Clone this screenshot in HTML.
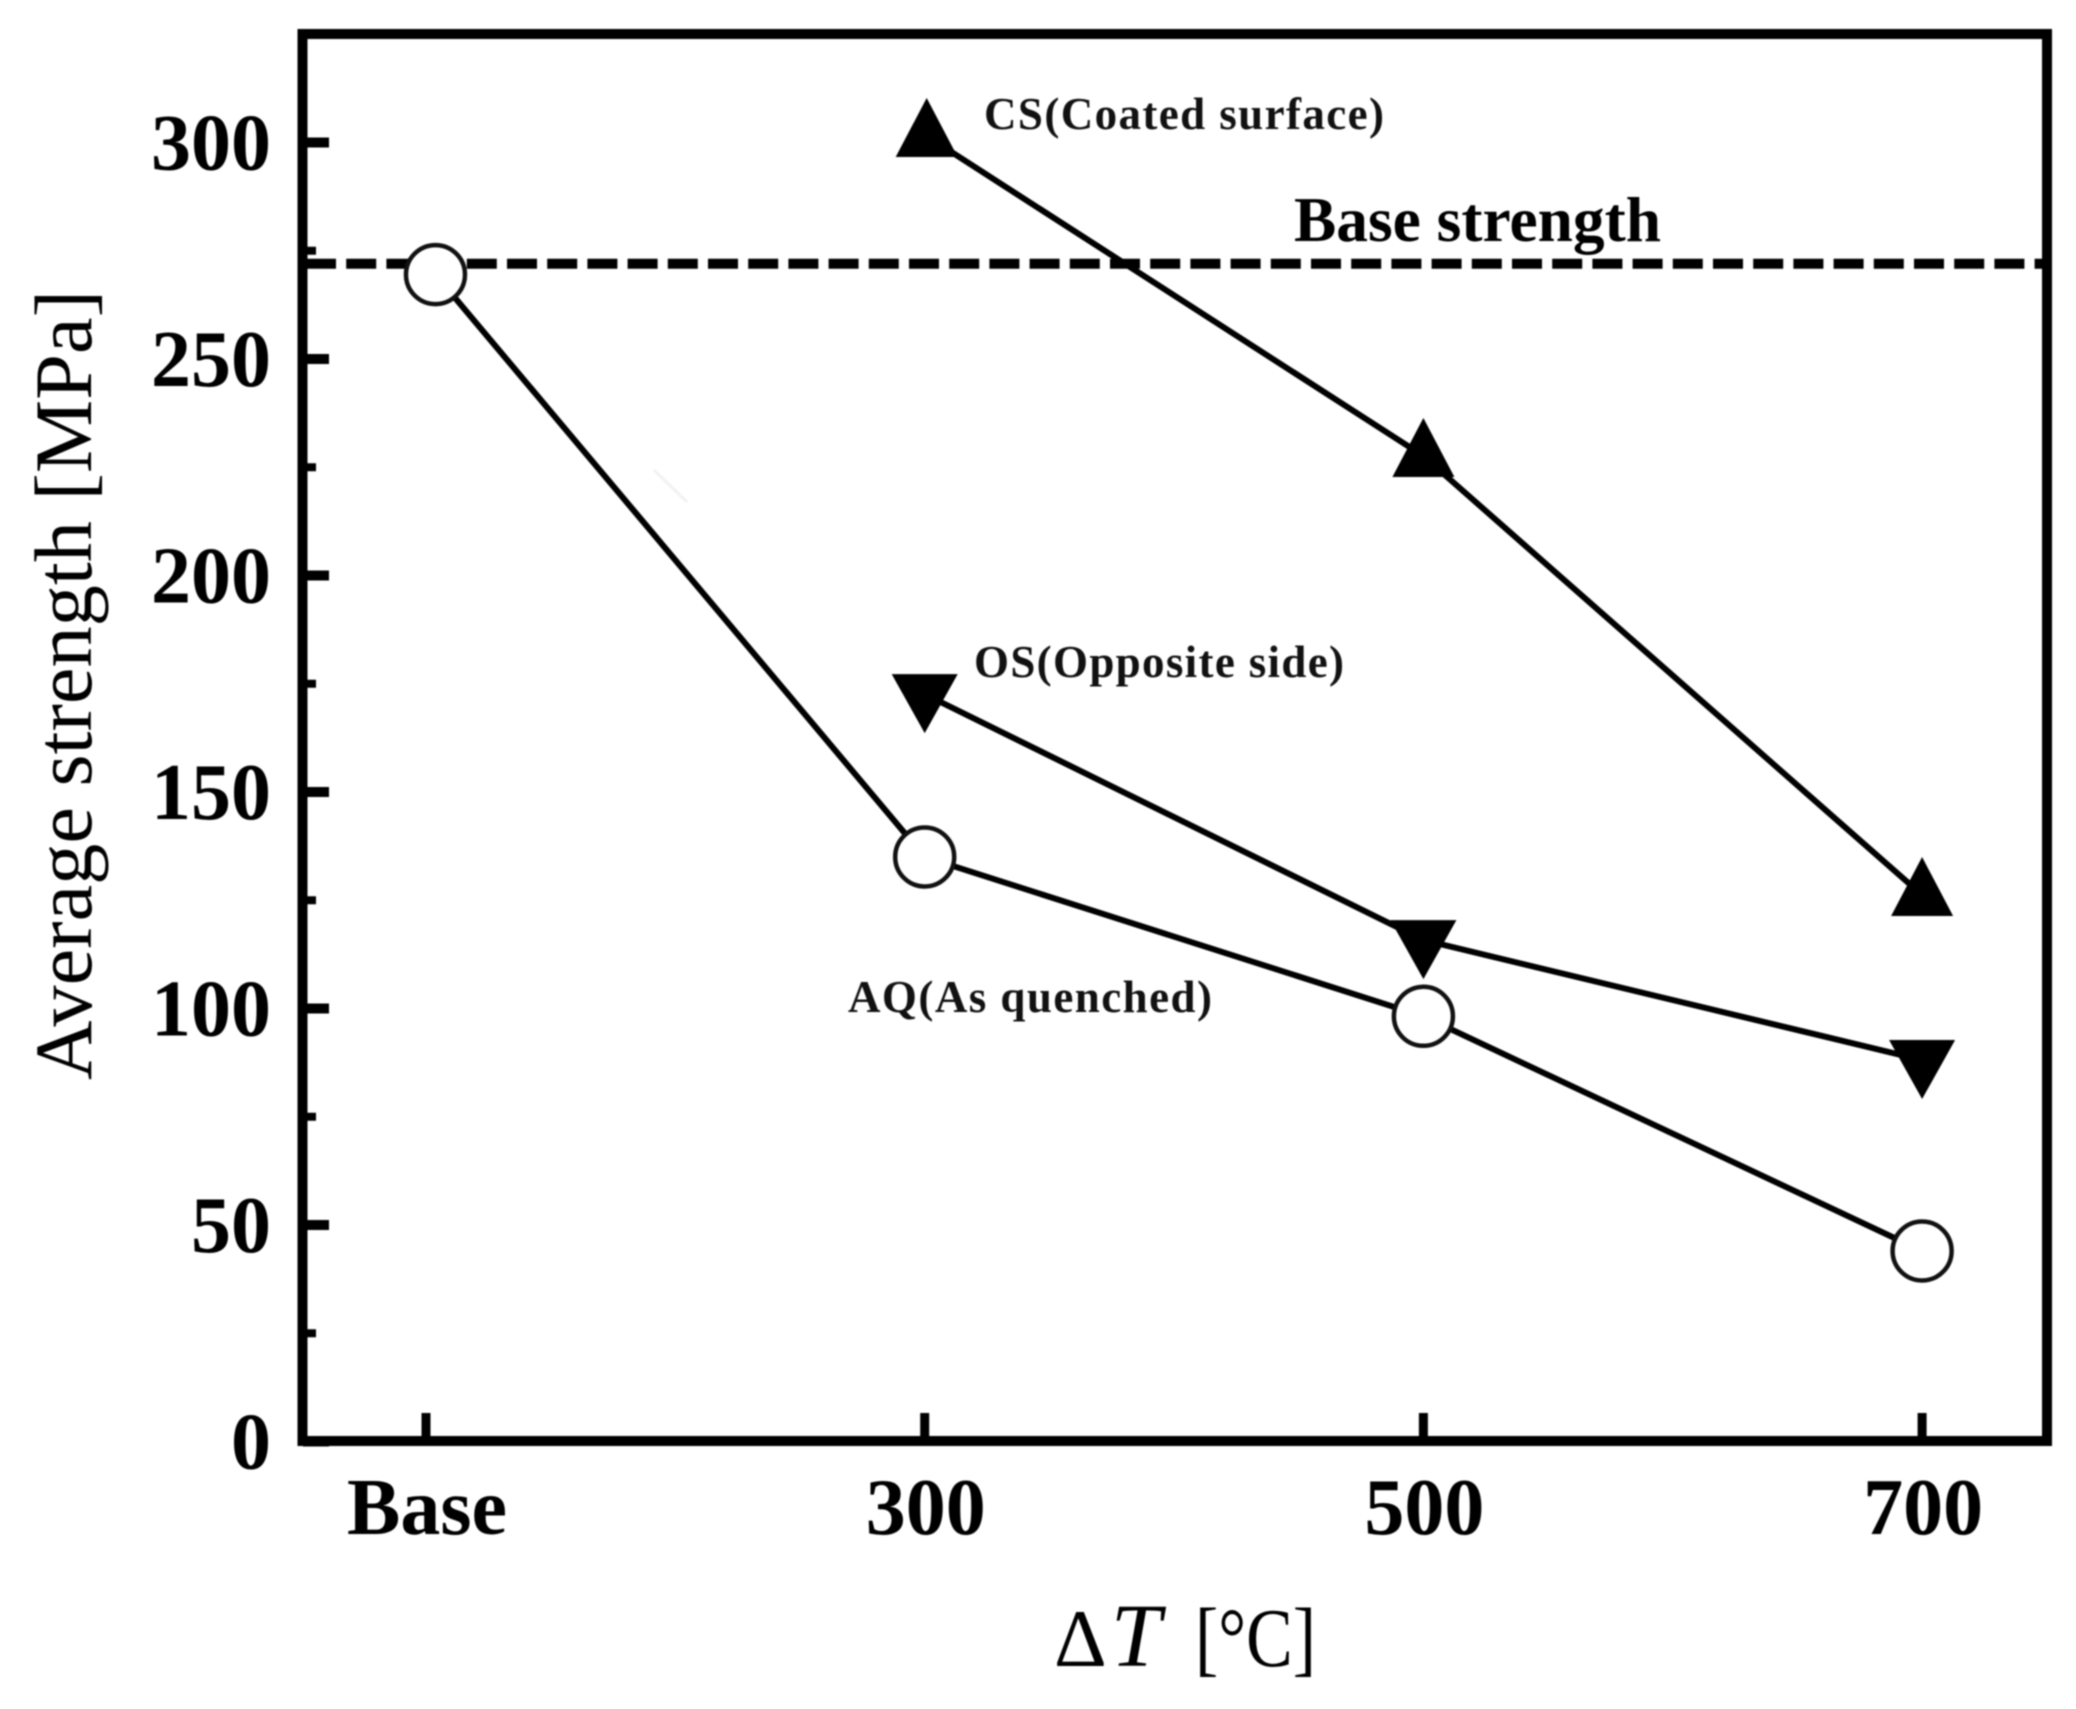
<!DOCTYPE html>
<html lang="en">
<head>
<meta charset="utf-8">
<title>Average strength vs temperature difference</title>
<style>
  html, body { margin: 0; padding: 0; background: #fff; }
  body { width: 2076px; height: 1709px; overflow: hidden; }
  svg { display: block; }
  text { font-family: "Liberation Serif", "DejaVu Serif", serif; fill: #000; }
  .tick-label { font-size: 80px; font-weight: bold; }
  .note { font-size: 45px; font-weight: bold; fill: #111; }
</style>
</head>
<body>
<svg id="chart" xmlns="http://www.w3.org/2000/svg" width="2076" height="1709" viewBox="0 0 2076 1709">
  <rect x="0" y="0" width="2076" height="1709" fill="#fff"/>
  <g id="root" style="filter:blur(0.8px)">
    <line x1="654" y1="470" x2="687" y2="502" stroke="#f2f2f2" stroke-width="3"/>
    <g id="ticks"></g>
    <g id="labels"></g>
    <g id="refline"></g>
    <g id="series"></g>
    <rect x="302.5" y="34" width="1744.5" height="1407" fill="none" stroke="#000" stroke-width="10"/>

    <text transform="translate(91 685) rotate(-90)" text-anchor="middle" font-size="82" textLength="790" lengthAdjust="spacingAndGlyphs">Average strength [MPa]</text>
    <text x="1054" y="1666" font-size="82">Δ<tspan font-style="italic" font-size="90" dx="4">T</tspan></text>
    <text x="1195" y="1666" font-size="84" textLength="121" lengthAdjust="spacingAndGlyphs">[°C]</text>

    <text x="1294" y="241" font-size="63" font-weight="bold" textLength="367" lengthAdjust="spacingAndGlyphs">Base strength</text>
    <text class="note" x="984" y="129" textLength="400" lengthAdjust="spacing">CS(Coated surface)</text>
    <text class="note" x="974" y="677" textLength="370" lengthAdjust="spacing">OS(Opposite side)</text>
    <text class="note" x="848" y="1012" textLength="364" lengthAdjust="spacing">AQ(As quenched)</text>
  </g>
</svg>
<script>
const categories = ['Base', '300', '500', '700'];
const yMajorTicks = [0, 50, 100, 150, 200, 250, 300];
const yMinorTicks = [25, 75, 125, 175, 225, 275];
const baseStrength = 272;
const aqCategoryIndex = [0.019, 1, 2, 3];
const aqValues = [269.5, 135, 98.2, 44];
const csCategoryIndex = [1.004, 2, 3];
const csValues = [301.5, 227.6, 126.2];
const osCategoryIndex = [1, 2, 3];
const osValues = [172.6, 115.8, 88.1];

const NS = 'http://www.w3.org/2000/svg';
function xAxis(i) { return 426 + 498.7 * i; }
function yAxis(v) { return 1441.5 - 4.33 * v; }
function make(tag, parent, attrs) {
  const el = document.createElementNS(NS, tag);
  for (const k in attrs) el.setAttribute(k, attrs[k]);
  parent.appendChild(el);
  return el;
}
const ticksG = document.getElementById('ticks');
const labelsG = document.getElementById('labels');
const refG = document.getElementById('refline');
const seriesG = document.getElementById('series');

yMajorTicks.forEach(function (v) {
  const t = make('line', ticksG, { x1: 303, x2: 329, y1: yAxis(v), y2: yAxis(v), stroke: '#000', 'stroke-width': 10 });
  
  
  const l = make('text', labelsG, { x: 271, y: yAxis(v) + 27, 'text-anchor': 'end', class: 'tick-label' });
  l.textContent = String(v);
  
  
});
yMinorTicks.forEach(function (v) {
  const t = make('line', ticksG, { x1: 303, x2: 316, y1: yAxis(v), y2: yAxis(v), stroke: '#000', 'stroke-width': 8 });
  
  
});
categories.forEach(function (c, i) {
  const t = make('line', ticksG, { x1: xAxis(i), x2: xAxis(i), y1: 1413, y2: 1441, stroke: '#000', 'stroke-width': 9 });
  
  
  const l = make('text', labelsG, { x: xAxis(i) + 1, y: 1534, 'text-anchor': 'middle', class: 'tick-label' });
  l.textContent = c;
  
  
});

const ref = make('line', refG, { x1: 306, x2: 2042, y1: yAxis(baseStrength), y2: yAxis(baseStrength), stroke: '#000', 'stroke-width': 10, 'stroke-dasharray': '30 10.2' });



function polyPoints(indexes, values) {
  return indexes.map(function (ix, n) { return xAxis(ix) + ',' + yAxis(values[n]); }).join(' ');
}

const aqLine = make('polyline', seriesG, { points: polyPoints(aqCategoryIndex, aqValues), fill: 'none', stroke: '#000', 'stroke-width': 6 });


const csLine = make('polyline', seriesG, { points: polyPoints(csCategoryIndex, csValues), fill: 'none', stroke: '#000', 'stroke-width': 6 });


const osLine = make('polyline', seriesG, { points: polyPoints(osCategoryIndex, osValues), fill: 'none', stroke: '#000', 'stroke-width': 6 });



aqValues.forEach(function (v, n) {
  const m = make('circle', seriesG, { cx: xAxis(aqCategoryIndex[n]), cy: yAxis(v), r: 29.5, fill: '#fff', stroke: '#111', 'stroke-width': 4.5 });
  
  
});
csValues.forEach(function (v, n) {
  const cx = xAxis(csCategoryIndex[n]);
  const cy = yAxis(v);
  const m = make('polygon', seriesG, { points: cx + ',' + (cy - 38) + ' ' + (cx + 31) + ',' + (cy + 21) + ' ' + (cx - 31) + ',' + (cy + 21), fill: '#000' });
  
  
});
osValues.forEach(function (v, n) {
  const cx = xAxis(osCategoryIndex[n]);
  const cy = yAxis(v);
  const m = make('polygon', seriesG, { points: (cx - 33) + ',' + (cy - 20) + ' ' + (cx + 33) + ',' + (cy - 20) + ' ' + cx + ',' + (cy + 39), fill: '#000' });
  
  
});
</script>
</body>
</html>
